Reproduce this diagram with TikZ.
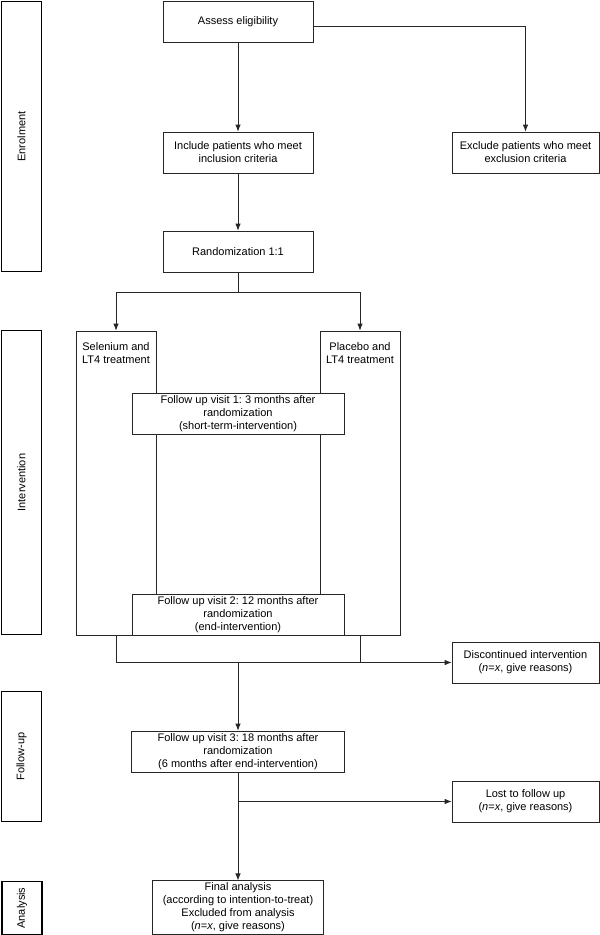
\documentclass[tikz,border=0pt]{standalone}
\usepackage{fontspec}
\setmainfont{Liberation Sans}
\usetikzlibrary{arrows.meta, positioning}
\tikzstyle{block} = [draw=black!85, fill=white, rectangle, align=center, minimum height=41pt, inner sep=2pt]
\tikzstyle{arm} = [draw=black!85, rectangle, minimum width=80pt, minimum height=304pt]
\tikzstyle{armtext} = [align=center, anchor=north, yshift=-8pt]
\tikzstyle{phase} = [draw, line width=1.8pt, rectangle, rotate=90, minimum height=40pt]
\newcommand{\nisx}{(\emph{n}=\emph{x}, give reasons)}
\frenchspacing

\begin{document}
\begin{tikzpicture}[x=1pt, y=-1pt, >={Latex[length=7pt, width=5.5pt]}, line width=0.8pt,
  font=\fontsize{11}{13}\selectfont]
  \useasboundingbox (0,0) rectangle (600,935);
  % phases
  \node[phase, minimum width=270pt] (enrol) at (21.5,136.5) {Enrolment};
  \node[phase, minimum width=304pt] (interv) at (21.5,482.5) {Intervention};
  \node[phase, minimum width=130pt] (fup) at (21.5,756.5) {Follow-up};
  \node[phase, minimum width=53pt] (anal) at (22,908) {Analysis};
  % enrolment
  \node[block, minimum width=150pt] (assess) at (238,21.5) {Assess eligibility};
  \node[block, minimum width=150pt, below of=assess, node distance=131pt] (include) {Include patients who meet\\inclusion criteria};
  \node[block, minimum width=147pt, right of=include, node distance=287.5pt] (exclude) {Exclude patients who meet\\exclusion criteria};
  \node[block, minimum width=150pt, below of=include, node distance=99pt] (random) {Randomization 1:1};
  % intervention
  \node[arm, label={[armtext]north:Selenium and\\LT4 treatment}] (selenium) at (116,483) {};
  \node[arm, label={[armtext]north:Placebo and\\LT4 treatment}] (placebo) at (360,483) {};
  \node[block, minimum width=212pt] (visit1) at (238,413.5) {Follow up visit 1: 3 months after\\randomization\\(short-term-intervention)};
  \node[block, minimum width=212pt] (visit2) at (238,614.5) {Follow up visit 2: 12 months after\\randomization\\(end-intervention)};
  \node[block, minimum width=147pt] (discont) at (525.5,662.5) {Discontinued intervention\\\nisx};
  % follow-up and analysis
  \node[block, minimum width=213pt] (visit3) at (238,751.5) {Follow up visit 3: 18 months after\\randomization\\(6 months after end-intervention)};
  \node[block, minimum width=147pt] (lost) at (525.5,801.5) {Lost to follow up\\\nisx};
  \node[block, minimum width=171pt, minimum height=53pt] (final) at (238,907.5) {Final analysis\\(according to intention-to-treat)\\Excluded from analysis\\\nisx};
  \coordinate (split) at (238,292);
  \coordinate (join) at (visit3 |- discont);
  \coordinate (branch) at (visit3 |- lost);
  \begin{scope}[draw=black!85]
  \draw[->] (assess) -- (include);
  \draw[->] ([yshift=-5pt]assess.east) -| (exclude);
  \draw[->] (include) -- (random);
  \draw (random) -- (split);
  \draw[->] (split) -| (selenium);
  \draw[->] (split) -| (placebo);
  \draw (placebo.south) |- (join);
  \draw[->] (selenium.south) |- (discont);
  \draw[->] (join) -- (visit3);
  \draw[->] (visit3) -- (final);
  \draw[->] (branch) -- (lost);
  \end{scope}
\end{tikzpicture}
\end{document}
